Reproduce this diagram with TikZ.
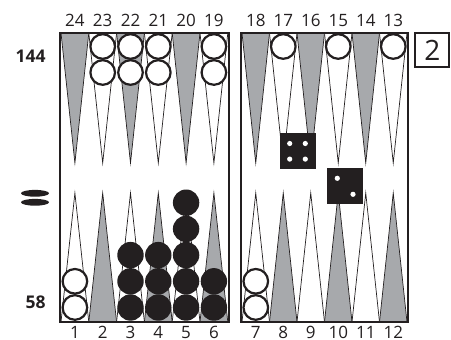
\documentclass[tikz,border=0pt]{standalone}
\usepackage{fontspec}
\setmainfont{Open Sans}
\definecolor{ptgray}{HTML}{A7A9AC}
\definecolor{chkblack}{HTML}{231F20}
\begin{document}
\begin{tikzpicture}[x=1pt,y=-1pt,
  graypt/.style={fill=ptgray,draw=chkblack,line width=0.7pt},
  whitept/.style={fill=white,draw=chkblack,line width=0.7pt},
  whitechk/.style={fill=white,draw=chkblack,line width=2.2pt},
  blackchk/.style={fill=chkblack},
  frame/.style={draw=chkblack,line width=2.2pt},
  ptnum/.style={font=\fontsize{17}{17}\selectfont,text=chkblack,inner sep=0pt},
  sidelbl/.style={font=\fontsize{17.5}{17.5}\selectfont\bfseries,text=chkblack,inner sep=0pt},
  diebox/.style={fill=chkblack,minimum size=36pt,inner sep=0pt},
  pip/.style={fill=white}]
\useasboundingbox (0,0) rectangle (451,340);
% left half points
\foreach \i in {0,...,5} {
  \pgfmathtruncatemacro\ev{mod(\i,2)}
  \ifnum\ev=0
    \path[graypt] ({61+27.8*\i},33) -- ({61+27.8*\i+13.9},163) -- ({61+27.8*(\i+1)},33) -- cycle;
    \path[whitept] ({61+27.8*\i},322) -- ({61+27.8*\i+13.9},193) -- ({61+27.8*(\i+1)},322) -- cycle;
  \else
    \path[whitept] ({61+27.8*\i},33) -- ({61+27.8*\i+13.9},163) -- ({61+27.8*(\i+1)},33) -- cycle;
    \path[graypt] ({61+27.8*\i},322) -- ({61+27.8*\i+13.9},193) -- ({61+27.8*(\i+1)},322) -- cycle;
  \fi
  \pgfmathtruncatemacro\tn{24-\i}
  \pgfmathtruncatemacro\bn{1+\i}
  \node[ptnum,anchor=base] (t\tn) at ({74.9+27.8*\i},26.5) {\tn};
  \node[ptnum,anchor=base] (b\bn) at ({74.9+27.8*\i},338.3) {\bn};
}
% right half points
\foreach \j in {0,...,5} {
  \pgfmathtruncatemacro\ev{mod(\j,2)}
  \ifnum\ev=0
    \path[graypt] ({242+27.5*\j},33) -- ({242+27.5*\j+13.75},163) -- ({242+27.5*(\j+1)},33) -- cycle;
    \path[whitept] ({242+27.5*\j},322) -- ({242+27.5*\j+13.75},193) -- ({242+27.5*(\j+1)},322) -- cycle;
  \else
    \path[whitept] ({242+27.5*\j},33) -- ({242+27.5*\j+13.75},163) -- ({242+27.5*(\j+1)},33) -- cycle;
    \path[graypt] ({242+27.5*\j},322) -- ({242+27.5*\j+13.75},193) -- ({242+27.5*(\j+1)},322) -- cycle;
  \fi
  \pgfmathtruncatemacro\tn{18-\j}
  \pgfmathtruncatemacro\bn{7+\j}
  \node[ptnum,anchor=base] (t\tn) at ({255.8+27.5*\j},26.5) {\tn};
  \node[ptnum,anchor=base] (b\bn) at ({255.8+27.5*\j},338.3) {\bn};
}
% white checkers, top
\foreach \x in {102.7,130.5,158.3,213.9} {
  \path[whitechk] (\x,46.5) circle[radius=12.3];
  \path[whitechk] (\x,72.5) circle[radius=12.3];
}
\foreach \x in {283.3,338.3,393.3} {
  \path[whitechk] (\x,46.5) circle[radius=12.3];
}
% white checkers, bottom
\foreach \x in {74.9,255.8} {
  \path[whitechk] (\x,307.5) circle[radius=12.3];
  \path[whitechk] (\x,281.3) circle[radius=12.3];
}
% black checkers
\foreach \x/\n in {130.5/3,158.3/3,186.1/5,213.9/2} {
  \foreach \k in {1,...,\n} {
    \path[blackchk] (\x,{307.5-26.2*(\k-1)}) circle[radius=13.2];
  }
}
% board frames
\path[frame] (60,33) rectangle (229,322);
\path[frame] (241,33) rectangle (408,322);
% dice
\node[diebox] (die4) at (297.5,151.3) {};
\node[diebox] (die2) at (345.3,186.3) {};
\foreach \dx/\dy in {-7.8/-7.8,7.8/-7.8,-7.8/7.8,7.8/7.8} {
  \path[pip] ([shift={(\dx,\dy)}]die4.center) circle[radius=2.6];
}
\path[pip] ([shift={(-8,-8)}]die2.center) circle[radius=2.6];
\path[pip] ([shift={(7.7,8)}]die2.center) circle[radius=2.6];
% cube
\node[draw=chkblack,line width=2pt,minimum size=34pt,inner sep=0pt,
  font=\fontsize{28}{28}\selectfont,text=chkblack] (cube) at (432.3,50.3) {2};
% side labels
\node[sidelbl] (pip144) at (30.5,56.5) {144};
\node[sidelbl] (pip58) at (35.5,302) {58};
\path[fill=chkblack] (35,193.3) ellipse[x radius=14,y radius=3.4];
\path[fill=chkblack] (35,202.3) ellipse[x radius=14,y radius=3.4];
\end{tikzpicture}
\end{document}
